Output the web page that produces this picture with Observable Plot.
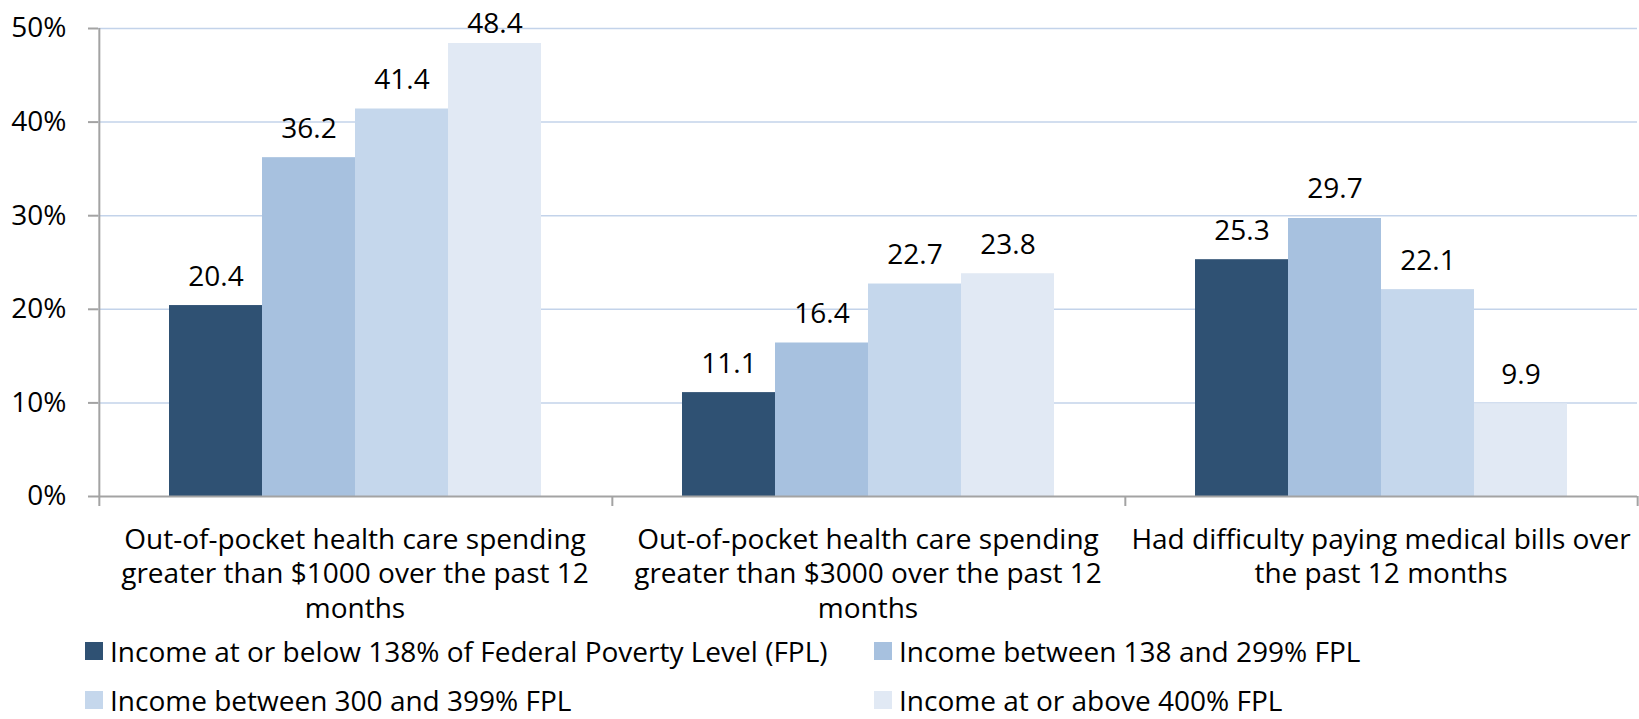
<!DOCTYPE html>
<html>
<head>
<meta charset="utf-8">
<script src="https://cdn.jsdelivr.net/npm/d3@7"></script>
<script src="https://cdn.jsdelivr.net/npm/@observablehq/plot@0.6"></script>
<style>
  html, body { margin: 0; padding: 0; background: white; }
  #wrap { position: relative; width: 1639px; height: 719px; font-family: "Open Sans", sans-serif; overflow: hidden; }
  #legend { position: absolute; left: 85px; top: 638px; display: grid; grid-template-columns: 789px auto; row-gap: 23px; }
  .item { display: flex; align-items: flex-start; height: 26px; font-size: 28px; line-height: 26px; color: #000; white-space: nowrap; }
  .sw { width: 18px; height: 18px; margin-right: 7px; margin-top: 4px; flex: none; }
</style>
</head>
<body>
<div id="wrap">
  <div id="chart"></div>
  <div id="legend"></div>
</div>
<script>
const categories = [
  "Out-of-pocket health care spending\ngreater than $1000 over the past 12\nmonths",
  "Out-of-pocket health care spending\ngreater than $3000 over the past 12\nmonths",
  "Had difficulty paying medical bills over\nthe past 12 months"
];
const series = [
  "Income at or below 138% of Federal Poverty Level (FPL)",
  "Income between 138 and 299% FPL",
  "Income between 300 and 399% FPL",
  "Income at or above 400% FPL"
];
const colors = ["#2F5173", "#A7C1DF", "#C5D7EC", "#E1E9F4"];
const valuesBelow138 = [20.4, 11.1, 25.3];
const values138to299 = [36.2, 16.4, 29.7];
const values300to399 = [41.4, 22.7, 22.1];
const valuesAbove400 = [48.4, 23.8, 9.9];
const yTicks = [0, 10, 20, 30, 40, 50];

const seriesValues = [valuesBelow138, values138to299, values300to399, valuesAbove400];
const data = categories.flatMap((c, i) => series.map((s, j) => ({category: c, series: s, value: seriesValues[j][i]})));

const W = 1639, H = 636, mL = 97, mR = 2, mT = 28, mB = H - 496;
const po = 0.75;
const step = (W - mL - mR) / categories.length / (series.length + 2 * po);
const edge = (0.5 + po) * step;
const axisColor = "#a3a3a3";
const gridColor = "#c3d3ea";
const FS = 28;
const FONT = "'Open Sans', sans-serif";
// like the original, a label that would leave the chart area is kept just inside it
const labelCeiling = 47.4;

const chart = Plot.plot({
  width: W, height: H,
  marginLeft: mL, marginRight: mR, marginTop: mT, marginBottom: mB,
  style: {fontFamily: FONT, fontSize: FS + "px", background: "white", color: "black"},
  fx: {domain: categories, padding: 0, axis: null},
  x: {domain: series, paddingInner: 0, paddingOuter: po, axis: null},
  y: {domain: [0, 50], axis: null},
  color: {domain: series, range: colors},
  marks: [
    Plot.ruleY(yTicks.filter(d => d > 0), {stroke: gridColor, strokeWidth: 1.5}),
    Plot.barY(data, {fx: "category", x: "series", y: "value", fill: "series"}),
    Plot.text(data, {fx: "category", x: "series", y: d => Math.min(d.value, labelCeiling), text: d => d.value.toFixed(1), dy: -29, fontSize: FS, fill: "black"}),
    Plot.ruleY([0], {stroke: axisColor, strokeWidth: 2}),
    Plot.axisY({ticks: yTicks, tickFormat: d => d + "%", tickSize: 10, tickPadding: 22, stroke: axisColor, strokeWidth: 2, fontSize: FS, label: null, fill: "black"}),
    Plot.ruleX(categories.slice(0, 1), {fx: d => d, x: () => series[0], dx: -edge, insetBottom: -10, stroke: axisColor, strokeWidth: 2}),
    Plot.ruleX(categories.slice(1), {fx: d => d, x: () => series[0], y1: 0, y2: 0, dx: -edge, insetBottom: -10, stroke: axisColor, strokeWidth: 2}),
    Plot.ruleX(categories.slice(-1), {fx: d => d, x: () => series[series.length - 1], y1: 0, y2: 0, dx: edge, insetBottom: -10, stroke: axisColor, strokeWidth: 2}),
    Plot.text(categories, {fx: d => d, text: d => d, frameAnchor: "bottom", lineAnchor: "top", dy: 28, lineHeight: 1.23, fontSize: FS, fill: "black"})
  ]
});
document.getElementById("chart").appendChild(chart);

const legend = document.getElementById("legend");
series.forEach((s, i) => {
  const item = document.createElement("div");
  item.className = "item";
  const sw = document.createElement("span");
  sw.className = "sw";
  sw.style.background = colors[i];
  const label = document.createElement("span");
  label.textContent = s;
  item.appendChild(sw);
  item.appendChild(label);
  legend.appendChild(item);
});
</script>
</body>
</html>
